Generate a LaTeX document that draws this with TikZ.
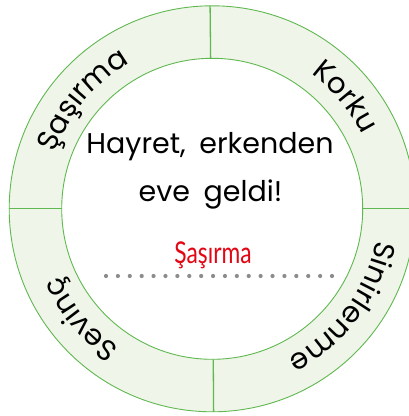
\documentclass[tikz,border=0pt]{standalone}
\usepackage{fontspec}
\setmainfont{Poppins}
\newfontfamily\redfont[FakeStretch=0.76]{Lato}
\usetikzlibrary{decorations.text}
\definecolor{ringfill}{RGB}{239,245,233}
\definecolor{ringline}{RGB}{96,184,80}
\definecolor{dotgrey}{RGB}{140,140,140}
\definecolor{redtxt}{RGB}{227,6,19}
\newcommand{\ringfont}{\fontsize{29}{29}\selectfont}
\tikzset{
  ringcircle/.style={draw=ringline, line width=0.9pt},
  divider/.style={draw=ringline, line width=1.3pt},
  ringlabel/.style={decorate, decoration={text along path, text={|\ringfont|#1}, text align=center}},
  maintext/.style={anchor=base, font=\fontsize{28.5}{28.5}\selectfont},
}
\begin{document}
\begin{tikzpicture}[x=1pt,y=1pt]
\useasboundingbox (0,0) rectangle (409,416);
\clip (0,0) rectangle (409,416);
\coordinate (C) at (212.2,207.2);
\fill[ringfill, even odd rule] (C) circle[radius=203] (C) circle[radius=150.5];
\draw[ringcircle] (C) circle[radius=203];
\draw[ringcircle] (C) circle[radius=150.5];
\foreach \a in {90.6,180,0,270.4}
  \draw[divider] (C) ++(\a:150.5) -- ++(\a:52.5);
\path[ringlabel=Şaşırma] (C) ++(182:167) arc[start angle=182, end angle=98, radius=167];
\path[ringlabel=Korku] (C) ++(80:167) arc[start angle=80, end angle=0, radius=167];
\path[ringlabel=Sinirlenme] (C) ++(6:167) arc[start angle=6, end angle=-80, radius=167];
\path[ringlabel=Sevinç] (C) ++(-98:167) arc[start angle=-98, end angle=-182, radius=167];
\node[maintext] (l1) at (210,262) {Hayret,\hspace{6pt} erkenden};
\node[maintext] (l2) at (210.5,214) {eve\hspace{6pt} geldi!};
\node[anchor=base, text=redtxt, font=\redfont\fontsize{30}{30}\selectfont] (ans) at (213,152.7) {Şaşırma};
\foreach \i in {0,...,19}
  \fill[dotgrey] (106+\i*11.895,140) circle[radius=2.1];
\end{tikzpicture}
\end{document}
